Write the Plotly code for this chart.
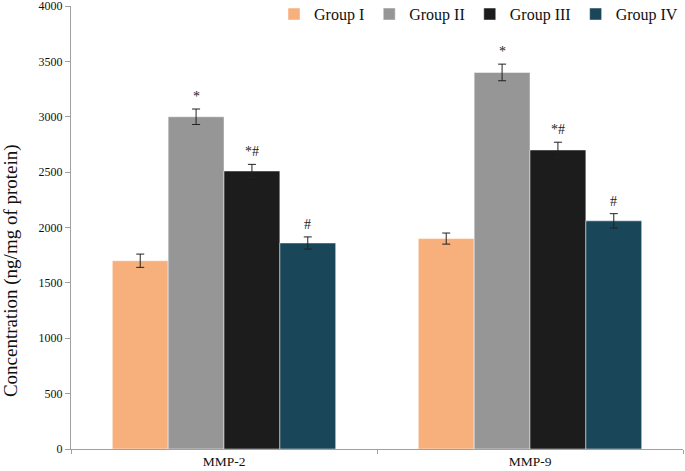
import plotly.graph_objects as go

categories = ["MMP-2", "MMP-9"]
groups = ["Group I", "Group II", "Group III", "Group IV"]
values = {
    "Group I": [1700, 1900],
    "Group II": [3000, 3400],
    "Group III": [2510, 2700],
    "Group IV": [1860, 2060],
}
errors = {
    "Group I": [60, 50],
    "Group II": [70, 75],
    "Group III": [60, 70],
    "Group IV": [55, 65],
}
marks = {
    "Group I": ["", ""],
    "Group II": ["*", "*"],
    "Group III": ["*#", "*#"],
    "Group IV": ["#", "#"],
}
colors = {
    "Group I": "#F7B07C",
    "Group II": "#969696",
    "Group III": "#1C1C1C",
    "Group IV": "#194658",
}
y_title = "Concentration (ng/mg of protein)"

FONT = "Liberation Serif, Times New Roman, serif"

fig = go.Figure()
for g in groups:
    fig.add_trace(go.Bar(
        name=g, x=categories, y=values[g],
        marker=dict(color=colors[g], line=dict(color="rgba(255,255,255,0.6)", width=0.8)),
        error_y=dict(type="data", array=errors[g], color="#222222", thickness=1, width=4),
        offsetgroup=g,
    ))

# significance marks placed above the error bars
n = len(groups)
group_width = 1 - 0.27
bar_w = group_width / n
for gi, g in enumerate(groups):
    for ci, c in enumerate(categories):
        if not marks[g][ci]:
            continue
        xpos = ci - group_width / 2 + bar_w * (gi + 0.5)
        fig.add_annotation(
            x=xpos, y=values[g][ci] + errors[g][ci], xref="x", yref="y",
            text=marks[g][ci], showarrow=False, yanchor="bottom", yshift=3,
            font=dict(family=FONT, size=14, color="#222222"),
        )

# y-axis title (placed like the original, slightly below centre)
fig.add_annotation(
    x=-0.097, y=0.403, xref="paper", yref="paper", text=y_title,
    textangle=-90, showarrow=False, xanchor="center", yanchor="middle",
    font=dict(family=FONT, size=19, color="#111111"),
)

fig.update_layout(
    barmode="group", bargap=0.27, bargroupgap=0,
    width=685, height=471,
    margin=dict(l=71, r=2, t=6, b=22, autoexpand=False),
    plot_bgcolor="white", paper_bgcolor="white",
    font=dict(family=FONT, color="#111111"),
    showlegend=True,
    legend=dict(orientation="h", x=1.0, xanchor="right", y=1.02, yanchor="top",
                font=dict(family=FONT, size=16, color="#111111"),
                itemwidth=30, bgcolor="rgba(0,0,0,0)"),
)
fig.update_yaxes(range=[0, 4000], dtick=500, showgrid=False, zeroline=False,
                 showline=True, linecolor="#A0A0A0", linewidth=1,
                 ticks="outside", ticklen=5, tickcolor="#A0A0A0",
                 tickfont=dict(family=FONT, size=12, color="#111111"),
                 ticklabeloverflow="allow", automargin=False)
fig.update_xaxes(showgrid=False, showline=True, linecolor="#A0A0A0", linewidth=1,
                 ticks="outside", tickson="boundaries", ticklen=4, tickcolor="#A0A0A0",
                 tickfont=dict(family=FONT, size=13.5, color="#111111"), automargin=False)

fig.write_html(
    "out.html",
    config={"displayModeBar": False},
    post_script="document.body.style.margin='0';document.body.style.overflow='hidden';",
)
